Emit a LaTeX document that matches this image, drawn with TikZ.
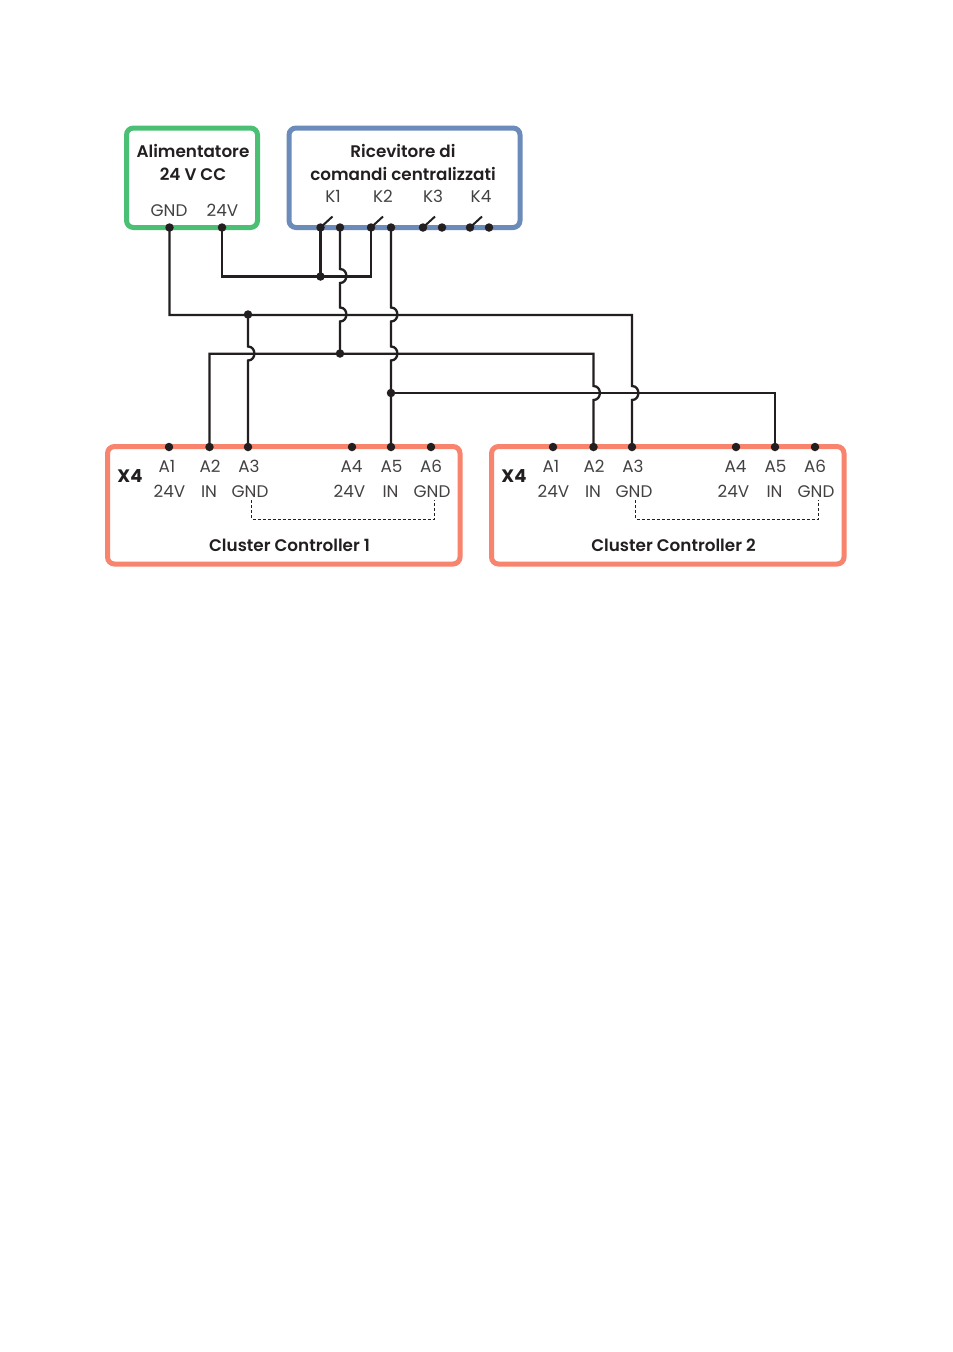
\documentclass[tikz,border=0pt]{standalone}
\usepackage{fontspec}
\setmainfont{Poppins}
\newfontfamily\titlefont{Poppins SemiBold}
\definecolor{ink}{HTML}{231F20}
\definecolor{grn}{HTML}{4BBF73}
\definecolor{blu}{HTML}{6B8CBA}
\definecolor{sal}{HTML}{F9846D}
\tikzset{
 x=1pt,y=-1pt,
 frame/.style={draw=#1,line width=5pt,rounded corners=7pt,fill=white},
 wire/.style={draw=ink,line width=2.3pt,line join=miter},
 pin/.style={circle,fill=ink,inner sep=0pt,minimum size=8.5pt},
 lab/.style={text=ink!85,font=\fontsize{16.8}{16.8}\selectfont,inner sep=0pt,anchor=base},
 ttl/.style={text=ink,font=\fontsize{16.8}{16.8}\selectfont\titlefont,inner sep=0pt,anchor=base},
 xf/.style={text=ink,font=\fontsize{18}{18}\selectfont\bfseries,inner sep=0pt,anchor=base},
 link/.style={draw=ink,line width=0.8pt,dash pattern=on 3pt off 2pt}
}
\newcommand{\hop}[2]{-- (#1,#2-7) .. controls (#1+8.5,#2-7) and (#1+8.5,#2+7) .. (#1,#2+7)}
\newcommand{\controller}[3]{%
 \draw[frame=sal] (#1+107.5,446.5) rectangle (#1+460,564);
 \foreach \n/\x in {1/169,2/209.5,3/248,4/352,5/391,6/431}
   \node[pin] (#2\n) at (#1+\x,447) {};
 \node[xf] (#2x) at (#1+130,482.5) {X4};
 \foreach \n/\x in {1/167,2/210,3/249,4/351.5,5/391.5,6/431}
   \node[lab] (#2a\n) at (#1+\x,472) {A\n};
 \foreach \n/\x/\t in {1/169.5/24V,2/209/IN,3/250/GND,4/349.5/24V,5/390.5/IN,6/432/GND}
   \node[lab] (#2b\n) at (#1+\x,497) {\t};
 \coordinate (#2l) at (#1+251.7,500);
 \coordinate (#2r) at (#1+434.5,500);
 \draw[link] (#2l) -- ++(0,19) -| (#2r);
 \node[ttl] (#2t) at (#1+289.5,551) {#3};
}
\begin{document}
\begin{tikzpicture}
\useasboundingbox (0,0) rectangle (953,1352);
\fill[white] (0,0) rectangle (953,1352);
\draw[frame=grn] (126.5,128) rectangle (257.5,227.5);
\draw[frame=blu] (289,128) rectangle (520,227.5);
\controller{0}{p}{Cluster Controller 1}
\controller{384}{q}{Cluster Controller 2}
\node[ttl] (al) at (193,157) {Alimentatore};
\node[ttl] (cc) at (193,180) {24 V CC};
\node[lab] (gl) at (169,216) {GND};
\node[lab] (vl) at (222.5,216) {24V};
\node[ttl] (ri) at (403,157) {Ricevitore di};
\node[ttl] (co) at (403,180) {comandi centralizzati};
\foreach \n/\x in {1/333,2/383,3/433,4/481}
  \node[lab] (kl\n) at (\x,202) {K\n};
\node[pin] (g) at (169.5,227.5) {};
\node[pin] (v) at (222,227.5) {};
\foreach \n/\x in {a/320.5,b/340,c/371,d/391,e/423,f/442,h/470,i/489}
  \node[pin] (k\n) at (\x,227.5) {};
\foreach \n in {a,c,e,h}
  \draw[wire,line width=2pt] (k\n.center) -- ++(12,-11);
\node[pin] (j1) at (320.5,276.5) {};
\node[pin] (j2) at (248,314.5) {};
\node[pin] (j3) at (340,353.5) {};
\node[pin] (j4) at (391,393) {};
% wires
\draw[wire] (g.center) |- (632,315) \hop{632}{393} -- (q3.center);
\draw[wire] (v.center) |- (j1.center) -| (kc.center);
\draw[wire,line width=3.4pt] (ka.center) -- (j1.center);
\draw[wire] (kb.center) \hop{340}{276} \hop{340}{314.5} -- (j3.center);
\draw[wire] (kd.center) \hop{391}{314.5} \hop{391}{353.5} -- (j4.center) -- (p5.center);
\draw[wire] (j2.center) \hop{248}{353.5} -- (p3.center);
\draw[wire] (p2.center) |- (593.5,353.7) \hop{593.5}{393} -- (q2.center);
\draw[wire] (j4.center) -| (q5.center);
\end{tikzpicture}
\end{document}
